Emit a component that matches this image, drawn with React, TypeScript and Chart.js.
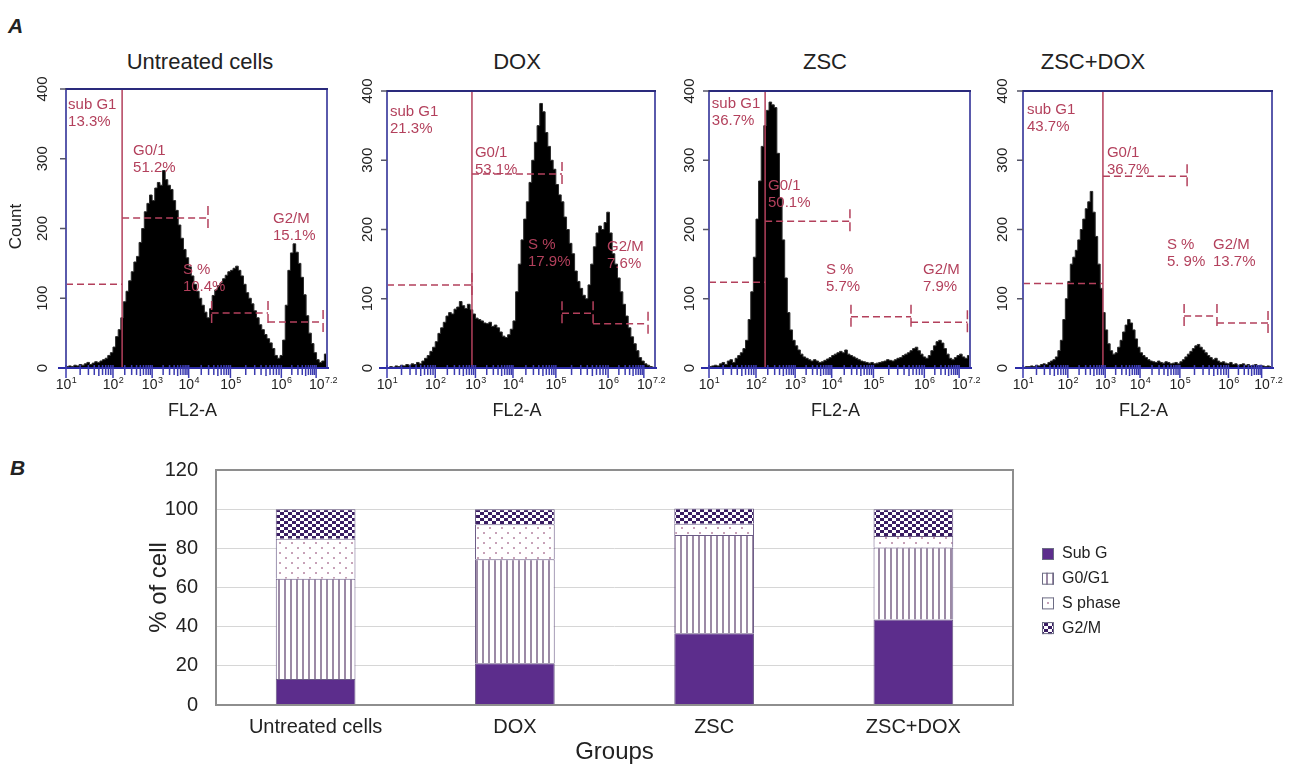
import React, { useEffect, useRef } from 'react';
import { Chart, registerables } from 'chart.js';

Chart.register(...registerables);

// ---------------- Panel A: flow-cytometry histograms (counts per FL2-A channel bin, 100 bins) ----------------
const histUntreated = [
  2, 3, 2, 4, 3, 5, 4, 6, 8, 5,
  7, 9, 8, 10, 12, 14, 18, 22, 30, 45,
  55, 72, 95, 110, 125, 138, 152, 160, 180, 200,
  224, 236, 248, 240, 258, 266, 262, 283, 270, 262,
  256, 240, 226, 205, 186, 170, 158, 145, 132, 120,
  110, 100, 90, 80, 72, 85, 104, 112, 118, 122,
  128, 133, 138, 140, 143, 146, 140, 132, 120, 108,
  100, 92, 82, 72, 62, 55, 48, 42, 36, 28,
  18, 14, 18, 40, 90, 140, 165, 178, 166, 150,
  130, 105, 75, 50, 35, 22, 12, 8, 10, 20,
];
const histDOX = [
  0, 2, 1, 3, 2, 4, 3, 5, 4, 6,
  5, 8, 6, 10, 14, 18, 24, 30, 38, 50,
  58, 66, 75, 80, 78, 85, 88, 96, 90, 86,
  92, 84, 78, 72, 70, 68, 65, 64, 66, 60,
  62, 58, 52, 46, 44, 48, 56, 68, 110, 150,
  185, 215, 240, 268, 300, 326, 350, 382, 370, 340,
  320, 300, 287, 265, 250, 240, 218, 200, 180, 165,
  140, 125, 115, 105, 100, 120, 150, 175, 195, 205,
  200, 210, 225, 195, 165, 150, 130, 110, 92, 75,
  58, 45, 35, 25, 15, 10, 6, 4, 2, 1,
];
const histZSC = [
  2, 3, 4, 3, 6, 8, 5, 10, 12, 8,
  14, 18, 22, 28, 40, 70, 110, 160, 215, 270,
  320, 350, 372, 384, 380, 376, 310, 245, 185, 130,
  80, 55, 40, 32, 26, 20, 16, 14, 12, 10,
  12, 10, 8, 9, 11, 13, 15, 18, 20, 22,
  24, 22, 26, 20, 18, 16, 14, 12, 10, 9,
  8, 7, 8, 6, 7, 8, 9, 10, 12, 11,
  10, 12, 14, 15, 18, 20, 22, 25, 28, 30,
  25, 20, 16, 14, 18, 25, 32, 38, 40, 36,
  28, 20, 14, 12, 15, 18, 20, 16, 14, 18,
];
const histZSCDOX = [
  1, 2, 2, 3, 2, 4, 3, 5, 6, 5,
  8, 10, 12, 16, 25, 40, 70, 100, 125, 150,
  160, 170, 185, 200, 215, 230, 240, 255, 225, 190,
  150, 115, 80, 55, 35, 25, 20, 22, 30, 40,
  52, 62, 70, 65, 55, 42, 30, 22, 18, 15,
  12, 10, 9, 8, 10, 8, 7, 9, 8, 6,
  7, 8, 6, 9, 12, 16, 20, 24, 28, 32,
  34, 30, 26, 22, 18, 15, 12, 14, 10, 8,
  9, 7, 6, 8, 5, 6, 4, 5, 6, 4,
  5, 3, 4, 5, 3, 4, 3, 2, 3, 2,
];

const xTickExponents = ['1', '2', '3', '4', '5', '6', '7.2'];
const xTickExpValues = [1, 2, 3, 4, 5, 6, 7.2];
const xTickChannels = [0, 18, 33, 47, 63, 82.5, 98.5];
const yTicksA = [0, 100, 200, 300, 400];

// ---------------- Panel B: stacked cell-cycle percentages ----------------
const groups = ['Untreated cells', 'DOX', 'ZSC', 'ZSC+DOX'];
const subG = [13.3, 21.3, 36.7, 43.7];
const g0g1 = [51.2, 53.1, 50.1, 36.7];
const sPhase = [20.4, 17.9, 5.7, 5.9];
const g2m = [15.1, 7.6, 7.9, 13.7];
const seriesNames = ['Sub G', 'G0/G1', 'S phase', 'G2/M'];

const FONT = 'Arial, "Liberation Sans", sans-serif';
const RED = '#b3405c';

type Label = { lines: string[]; c: number; y: number };
type Gate = { c1: number; c2: number; y: number; bars: number[] };

const panels = [
  {
    title: 'Untreated cells', titleX: 200, data: histUntreated,
    left: 0, width: 345, boxLeft: 66, boxRight: 327, boxTop: 89, yLabelOff: 23, count: true,
    boundary: 21.5,
    labels: [
      { lines: ['sub G1', '13.3%'], c: 0.8, y: 388 },
      { lines: ['G0/1', '51.2%'], c: 25.7, y: 322 },
      { lines: ['S %', '10.4%'], c: 44.8, y: 152 },
      { lines: ['G2/M', '15.1%'], c: 79.3, y: 224 },
    ] as Label[],
    gates: [
      { c1: 0, c2: 21.5, y: 120, bars: [] },
      { c1: 21.5, c2: 54.4, y: 215, bars: [54.4] },
      { c1: 55.8, c2: 77.4, y: 79, bars: [55.8, 77.4] },
      { c1: 77.4, c2: 98.5, y: 66, bars: [98.5] },
    ] as Gate[],
  },
  {
    title: 'DOX', titleX: 517, data: histDOX,
    left: 345, width: 325, boxLeft: 387, boxRight: 655, boxTop: 91, yLabelOff: 19, count: false,
    boundary: 31.7,
    labels: [
      { lines: ['sub G1', '21.3%'], c: 1.1, y: 381 },
      { lines: ['G0/1', '53.1%'], c: 32.8, y: 322 },
      { lines: ['S %', '17.9%'], c: 52.6, y: 188 },
      { lines: ['G2/M', '7.6%'], c: 82.1, y: 186 },
    ] as Label[],
    gates: [
      { c1: 0, c2: 31.7, y: 120, bars: [31.7] },
      { c1: 31.7, c2: 65.3, y: 280, bars: [65.3] },
      { c1: 65.3, c2: 76.9, y: 79, bars: [65.3, 76.9] },
      { c1: 76.9, c2: 97.4, y: 64, bars: [97.4] },
    ] as Gate[],
  },
  {
    title: 'ZSC', titleX: 825, data: histZSC,
    left: 670, width: 320, boxLeft: 709, boxRight: 970, boxTop: 91, yLabelOff: 19, count: false,
    boundary: 21.5,
    labels: [
      { lines: ['sub G1', '36.7%'], c: 1.1, y: 392 },
      { lines: ['G0/1', '50.1%'], c: 22.6, y: 274 },
      { lines: ['S %', '5.7%'], c: 44.8, y: 152 },
      { lines: ['G2/M', '7.9%'], c: 82, y: 152 },
    ] as Label[],
    gates: [
      { c1: 0, c2: 21.5, y: 124, bars: [] },
      { c1: 21.5, c2: 54, y: 212, bars: [54] },
      { c1: 54.4, c2: 77.4, y: 74, bars: [54.4, 77.4] },
      { c1: 77.4, c2: 99, y: 66, bars: [99] },
    ] as Gate[],
  },
  {
    title: 'ZSC+DOX', titleX: 1093, data: histZSCDOX,
    left: 990, width: 312, boxLeft: 1023, boxRight: 1272, boxTop: 91, yLabelOff: 20, count: false,
    boundary: 32.1,
    labels: [
      { lines: ['sub G1', '43.7%'], c: 1.6, y: 384 },
      { lines: ['G0/1', '36.7%'], c: 33.7, y: 322 },
      { lines: ['S %', '5. 9%'], c: 57.8, y: 188 },
      { lines: ['G2/M', '13.7%'], c: 76.3, y: 188 },
    ] as Label[],
    gates: [
      { c1: 0, c2: 32.1, y: 122, bars: [] },
      { c1: 32.1, c2: 65.9, y: 277, bars: [65.9] },
      { c1: 64.7, c2: 77.9, y: 75, bars: [64.7, 77.9] },
      { c1: 77.9, c2: 98.4, y: 65, bars: [98.4] },
    ] as Gate[],
  },
];

const CANVAS_A_TOP = 40;
const CANVAS_A_H = 380;
const BOX_BOTTOM = 368;

function expToChannel(v: number) {
  for (let i = 0; i < xTickExpValues.length - 1; i++) {
    const a = xTickExpValues[i], b = xTickExpValues[i + 1];
    if (v >= a && v <= b) {
      return xTickChannels[i] + ((v - a) / (b - a)) * (xTickChannels[i + 1] - xTickChannels[i]);
    }
  }
  return null;
}

function makeFlowPlugin(p: typeof panels[number]) {
  return {
    id: 'flowDecor',
    afterDatasetsDraw(chart: any) {
      const { ctx, chartArea: a, scales } = chart;
      const x = scales.x, y = scales.y;
      ctx.save();
      ctx.strokeStyle = RED;
      ctx.lineWidth = 1.5;
      ctx.setLineDash([]);
      const bx = x.getPixelForValue(p.boundary);
      ctx.beginPath(); ctx.moveTo(bx, a.top); ctx.lineTo(bx, a.bottom); ctx.stroke();
      p.gates.forEach((g) => {
        const py = y.getPixelForValue(g.y);
        ctx.setLineDash([7, 4]);
        ctx.beginPath();
        ctx.moveTo(x.getPixelForValue(g.c1), py);
        ctx.lineTo(x.getPixelForValue(g.c2), py);
        ctx.stroke();
        g.bars.forEach((c) => {
          const px = x.getPixelForValue(c);
          ctx.setLineDash([9, 4]);
          ctx.beginPath(); ctx.moveTo(px, py - 12); ctx.lineTo(px, py + 13); ctx.stroke();
        });
      });
      ctx.setLineDash([]);
      ctx.fillStyle = RED;
      ctx.font = `15px ${FONT}`;
      ctx.textAlign = 'left';
      ctx.textBaseline = 'top';
      p.labels.forEach((l) => {
        const px = x.getPixelForValue(l.c);
        const py = y.getPixelForValue(l.y);
        l.lines.forEach((t, i) => ctx.fillText(t, px, py + i * 17));
      });
      ctx.restore();
    },
    afterDraw(chart: any) {
      const { ctx, chartArea: a, scales } = chart;
      const x = scales.x, y = scales.y;
      ctx.save();
      ctx.lineWidth = 2;
      ctx.strokeStyle = '#5a5aac';
      ctx.beginPath();
      ctx.moveTo(a.left, a.bottom); ctx.lineTo(a.left, a.top);
      ctx.moveTo(a.right, a.top); ctx.lineTo(a.right, a.bottom);
      ctx.stroke();
      ctx.strokeStyle = '#2a2a7c';
      ctx.beginPath(); ctx.moveTo(a.left - 1, a.top); ctx.lineTo(a.right + 1, a.top); ctx.stroke();
      ctx.strokeStyle = '#555566';
      ctx.lineWidth = 1.5;
      ctx.fillStyle = '#222';
      ctx.font = `15px ${FONT}`;
      ctx.textAlign = 'center';
      ctx.textBaseline = 'middle';
      yTicksA.forEach((v) => {
        const py = y.getPixelForValue(v);
        ctx.beginPath(); ctx.moveTo(a.left - 6, py); ctx.lineTo(a.left, py); ctx.stroke();
        ctx.save();
        ctx.translate(a.left - p.yLabelOff, py);
        ctx.rotate(-Math.PI / 2);
        ctx.fillText(String(v), 0, 0);
        ctx.restore();
      });
      ctx.strokeStyle = '#2c2ca6';
      ctx.lineWidth = 2;
      ctx.beginPath(); ctx.moveTo(a.left - 8, a.bottom); ctx.lineTo(a.right + 2, a.bottom); ctx.stroke();
      ctx.lineWidth = 1.5;
      ctx.strokeStyle = '#3b3bb0';
      for (let d = 1; d < 7.2; d++) {
        for (let k = 1; k <= 9; k++) {
          const v = d + Math.log10(k);
          if (v > 7.2) break;
          const c = expToChannel(v);
          if (c === null) continue;
          const px = x.getPixelForValue(c);
          const len = k === 1 ? 10 : k === 5 ? 8 : 7;
          ctx.beginPath(); ctx.moveTo(px, a.bottom - 3); ctx.lineTo(px, a.bottom + len); ctx.stroke();
        }
      }
      ctx.fillStyle = '#222';
      ctx.textAlign = 'left';
      ctx.textBaseline = 'alphabetic';
      const base = a.bottom + 21;
      xTickExponents.forEach((e, i) => {
        const cx = x.getPixelForValue(xTickChannels[i]);
        ctx.font = `14px ${FONT}`;
        const w1 = ctx.measureText('10').width;
        ctx.font = `9px ${FONT}`;
        const w2 = ctx.measureText(e).width;
        const sx = cx - (w1 + w2) / 2;
        ctx.font = `14px ${FONT}`;
        ctx.fillText('10', sx, base);
        ctx.font = `9px ${FONT}`;
        ctx.fillText(e, sx + w1 + 0.5, base - 6);
      });
      ctx.font = `18px ${FONT}`;
      ctx.textAlign = 'center';
      ctx.textBaseline = 'middle';
      ctx.fillText('FL2-A', (a.left + a.right) / 2 - 4, a.bottom + 43);
      if (p.count) {
        ctx.save();
        ctx.translate(16 - p.left, (a.top + a.bottom) / 2 - 2);
        ctx.rotate(-Math.PI / 2);
        ctx.font = `17px ${FONT}`;
        ctx.fillText('Count', 0, 0);
        ctx.restore();
      }
      ctx.restore();
    },
  };
}

function flowConfig(p: typeof panels[number]): any {
  const pts = p.data.map((v, i) => ({ x: i, y: v }));
  pts.push({ x: p.data.length, y: p.data[p.data.length - 1] });
  return {
    type: 'line',
    data: {
      datasets: [{
        data: pts,
        stepped: true,
        fill: 'origin',
        backgroundColor: '#000000',
        borderColor: '#2a2a2a',
        borderWidth: 1,
        pointRadius: 0,
      }],
    },
    options: {
      animation: false,
      responsive: false,
      events: [],
      layout: {
        padding: {
          left: p.boxLeft - p.left,
          right: p.left + p.width - p.boxRight,
          top: p.boxTop - CANVAS_A_TOP,
          bottom: CANVAS_A_TOP + CANVAS_A_H - BOX_BOTTOM,
        },
      },
      scales: {
        x: { type: 'linear', min: 0, max: 100, display: false },
        y: { min: 0, max: 400, display: false },
      },
      plugins: { legend: { display: false }, tooltip: { enabled: false } },
    },
    plugins: [makeFlowPlugin(p)],
  };
}

function makePattern(w: number, h: number, draw: (g: CanvasRenderingContext2D) => void) {
  const c = document.createElement('canvas');
  c.width = w; c.height = h;
  const g = c.getContext('2d') as CanvasRenderingContext2D;
  draw(g);
  return g.createPattern(c, 'repeat');
}

const barDecor = {
  id: 'barDecor',
  afterDraw(chart: any) {
    const { ctx, chartArea: a } = chart;
    ctx.save();
    ctx.strokeStyle = '#8e8e8e';
    ctx.lineWidth = 2;
    ctx.strokeRect(a.left, a.top, a.right - a.left, a.bottom - a.top);
    chart.data.datasets.forEach((ds: any, i: number) => {
      const cy = a.top + 84 + i * 24.7;
      const mx = a.right + 29;
      ctx.fillStyle = ds.backgroundColor;
      ctx.fillRect(mx, cy - 6, 12, 12);
      ctx.strokeStyle = '#6c6c84';
      ctx.lineWidth = 1;
      ctx.strokeRect(mx + 0.5, cy - 5.5, 11, 11);
      ctx.fillStyle = '#222';
      ctx.font = `16px ${FONT}`;
      ctx.textAlign = 'left';
      ctx.textBaseline = 'middle';
      ctx.fillText(ds.label, a.right + 49, cy);
    });
    ctx.restore();
  },
};

function barConfig(): any {
  const solid = '#5c2d8c';
  const stripes = makePattern(6, 6, (g) => {
    g.fillStyle = '#ffffff'; g.fillRect(0, 0, 6, 6);
    g.fillStyle = '#9c8aa6'; g.fillRect(2, 0, 2, 6);
  });
  const dots = makePattern(12, 10, (g) => {
    g.fillStyle = '#ffffff'; g.fillRect(0, 0, 12, 10);
    g.fillStyle = '#c7a2b8'; g.fillRect(3, 2, 2, 2); g.fillRect(9, 7, 2, 2);
  });
  const checks = makePattern(8, 6, (g) => {
    g.fillStyle = '#ffffff'; g.fillRect(0, 0, 8, 6);
    g.fillStyle = '#3a1d63'; g.fillRect(0, 0, 4, 3); g.fillRect(4, 3, 4, 3);
  });
  const fills = [solid, stripes, dots, checks];
  const values = [subG, g0g1, sPhase, g2m];
  return {
    type: 'bar',
    data: {
      labels: groups,
      datasets: values.map((v, i) => ({
        label: seriesNames[i],
        data: v,
        backgroundColor: fills[i],
        borderColor: '#6b5b86',
        borderWidth: 1,
        barPercentage: 0.4,
        categoryPercentage: 1,
      })),
    },
    options: {
      animation: false,
      responsive: false,
      events: [],
      layout: { padding: { left: 140, right: 289, top: 26, bottom: 0 } },
      scales: {
        x: {
          stacked: true,
          grid: { display: false, drawTicks: false },
          border: { display: false },
          ticks: { color: '#222', font: { size: 20, family: FONT }, padding: 10, maxRotation: 0, autoSkip: false },
          title: { display: true, text: 'Groups', color: '#222', font: { size: 24, family: FONT }, padding: { top: 0, bottom: 2 } },
          afterFit: (s: any) => { s.height = 64; },
        },
        y: {
          stacked: true,
          min: 0,
          max: 120,
          ticks: { stepSize: 20, color: '#222', font: { size: 20, family: FONT }, padding: 18 },
          grid: { color: '#d6d6d6', drawTicks: false },
          border: { display: false },
          title: { display: true, text: '% of cell', color: '#222', font: { size: 24, family: FONT }, padding: { top: 5, bottom: 0 } },
          afterFit: (s: any) => { s.width = 76; },
        },
      },
      plugins: { legend: { display: false }, tooltip: { enabled: false } },
    },
    plugins: [barDecor],
  };
}

function ChartCanvas(props: { left: number; top: number; width: number; height: number; make: () => any }) {
  const ref = useRef<HTMLCanvasElement | null>(null);
  useEffect(() => {
    const chart = new Chart(ref.current as HTMLCanvasElement, props.make());
    return () => chart.destroy();
  }, []);
  return (
    <canvas
      ref={ref}
      width={props.width}
      height={props.height}
      style={{ position: 'absolute', left: props.left, top: props.top, width: props.width, height: props.height }}
    />
  );
}

const textBase: React.CSSProperties = { position: 'absolute', fontFamily: FONT, color: '#222', whiteSpace: 'nowrap' };

export default function App() {
  return (
    <div style={{ position: 'fixed', left: 0, top: 0, width: 1302, height: 769, background: '#fff', overflow: 'hidden' }}>
      <div style={{ ...textBase, left: 8, top: 13, fontSize: 21, fontWeight: 'bold', fontStyle: 'italic', lineHeight: '26px' }}>A</div>
      <div style={{ ...textBase, left: 10, top: 455, fontSize: 21, fontWeight: 'bold', fontStyle: 'italic', lineHeight: '26px' }}>B</div>
      {panels.map((p) => (
        <div key={p.title} style={{ ...textBase, left: p.titleX, top: 49, fontSize: 22, lineHeight: '26px', transform: 'translateX(-50%)' }}>
          {p.title}
        </div>
      ))}
      {panels.map((p) => (
        <ChartCanvas key={'c' + p.title} left={p.left} top={CANVAS_A_TOP} width={p.width} height={CANVAS_A_H} make={() => flowConfig(p)} />
      ))}
      <ChartCanvas left={0} top={440} width={1302} height={329} make={barConfig} />
    </div>
  );
}
